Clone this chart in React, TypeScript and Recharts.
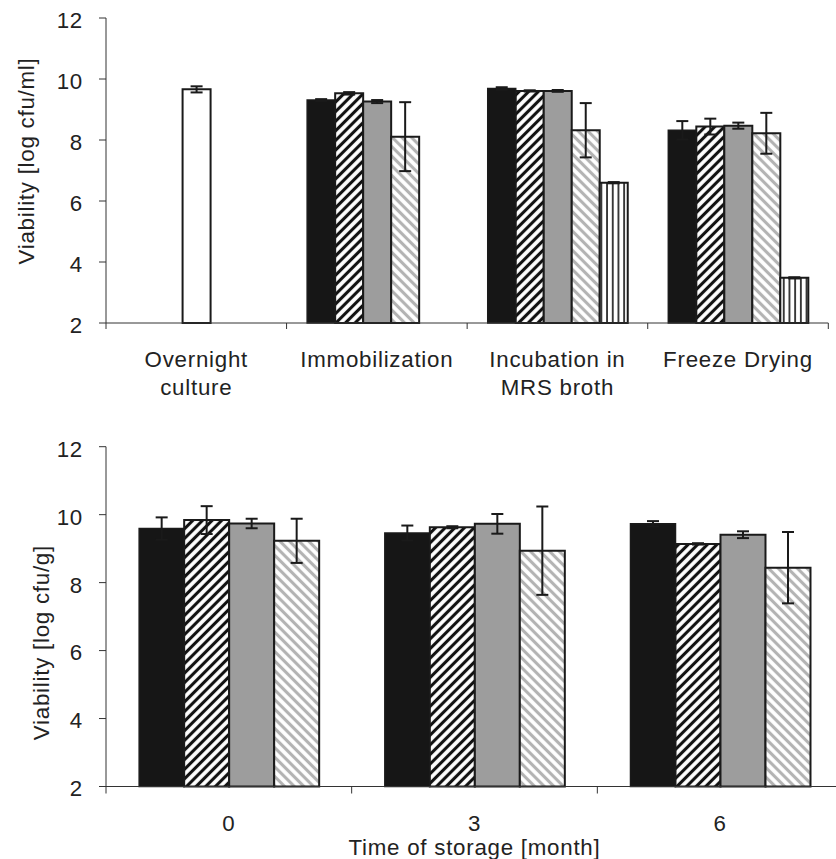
import React from 'react'
import { Bar, BarChart, Cell, ErrorBar, Label, XAxis, YAxis } from 'recharts'

const FONT = '"Liberation Sans", Arial, Helvetica, sans-serif'
const FS = 22.3
const LS = 0.75
const INK = '#1a1a1a'
const GREY = '#9d9d9d'

// top panel: processing steps
const stageLabels = ['Overnight\nculture', 'Immobilization', 'Incubation in\nMRS broth', 'Freeze Drying']
const stageSolid = [null, 9.31, 9.69, 8.32]
const stageSolidErr = [null, 0.03, 0.04, 0.3]
const stageHatch = [null, 9.53, 9.61, 8.44]
const stageHatchErr = [null, 0.04, 0.02, 0.26]
const stageGrey = [9.66, 9.26, 9.61, 8.47]
const stageGreyErr = [0.1, 0.05, 0.03, 0.1]
const stageLight = [null, 8.11, 8.32, 8.22]
const stageLightErr = [null, 1.13, 0.89, 0.67]
const stageStripe = [null, null, 6.6, 3.48]
const stageStripeErr = [null, null, 0.02, 0.02]

// bottom panel: storage time
const monthLabels = ['0', '3', '6']
const monthSolid = [9.59, 9.46, 9.73]
const monthSolidErr = [0.33, 0.22, 0.08]
const monthHatch = [9.84, 9.63, 9.14]
const monthHatchErr = [0.41, 0.03, 0.02]
const monthGrey = [9.74, 9.73, 9.41]
const monthGreyErr = [0.14, 0.29, 0.1]
const monthLight = [9.23, 8.94, 8.44]
const monthLightErr = [0.65, 1.3, 1.05]

const yTicks = [2, 4, 6, 8, 10, 12]

const stageData = stageLabels.map((stage, i) => ({
  stage,
  solid: stageSolid[i], solidErr: stageSolidErr[i],
  hatch: stageHatch[i], hatchErr: stageHatchErr[i],
  grey: stageGrey[i], greyErr: stageGreyErr[i],
  light: stageLight[i], lightErr: stageLightErr[i],
  stripe: stageStripe[i], stripeErr: stageStripeErr[i],
}))

const monthData = monthLabels.map((month, i) => ({
  month,
  solid: monthSolid[i], solidErr: monthSolidErr[i],
  hatch: monthHatch[i], hatchErr: monthHatchErr[i],
  grey: monthGrey[i], greyErr: monthGreyErr[i],
  light: monthLight[i], lightErr: monthLightErr[i],
}))

function patterns(p: string) {
  return (
    <defs>
      <pattern id={p + '-fwd'} patternUnits="userSpaceOnUse" width="6.8" height="6.8" patternTransform="rotate(45)">
        <rect width="6.8" height="6.8" fill="#fff" />
        <line x1="3.4" y1="0" x2="3.4" y2="6.8" stroke="#111" strokeWidth="3.1" />
      </pattern>
      <pattern id={p + '-back'} patternUnits="userSpaceOnUse" width="6.8" height="6.8" patternTransform="rotate(-45)">
        <rect width="6.8" height="6.8" fill="#fff" />
        <line x1="3.4" y1="0" x2="3.4" y2="6.8" stroke="#b3b3b3" strokeWidth="3.1" />
      </pattern>
      <pattern id={p + '-vert'} patternUnits="userSpaceOnUse" width="5.7" height="5.7">
        <rect width="5.7" height="5.7" fill="#fff" />
        <line x1="2.85" y1="0" x2="2.85" y2="5.7" stroke="#111" strokeWidth="1.6" />
      </pattern>
    </defs>
  )
}

function CategoryTick(props: any) {
  const { x, y, payload, index, count, width, baseline, lineGap, tickLen } = props
  const half = payload.offset ?? width / count / 2
  const lines = String(payload.value).split('\n')
  const last = index === count - 1
  return (
    <g>
      <line x1={x - half} y1={y} x2={x - half} y2={y + tickLen} stroke="#333" />
      {last && <line x1={x + half} y1={y} x2={x + half} y2={y + tickLen} stroke="#333" />}
      <text x={x} y={y + baseline} textAnchor="middle" fill="#222" fontSize={FS} letterSpacing={LS} fontFamily={FONT}>
        {lines.map((l, i) => (
          <tspan key={i} x={x} dy={i === 0 ? 0 : lineGap}>{l}</tspan>
        ))}
      </text>
    </g>
  )
}

function yTitle(text: string, dx: number, dy: number) {
  return (p: any) => {
    const vb = p.viewBox
    const cx = vb.x + dx
    const cy = vb.y + vb.height / 2 + dy
    return (
      <text x={cx} y={cy} transform={`rotate(-90 ${cx} ${cy})`} textAnchor="middle" dominantBaseline="central"
        fill="#222" fontSize={FS} letterSpacing={LS} fontFamily={FONT}>
        {text}
      </text>
    )
  }
}

const errProps = { width: 6, strokeWidth: 2, stroke: INK }
const yAxisProps = {
  domain: [2, 12] as [number, number],
  ticks: yTicks,
  interval: 0 as const,
  tickSize: 7,
  tickMargin: 16,
  width: 106,
  axisLine: { stroke: '#333' },
  tickLine: { stroke: '#333' },
  tick: { fill: '#222', fontSize: FS, letterSpacing: LS, fontFamily: FONT, dy: 2 },
}

export default function App() {
  return (
    <div style={{ position: 'absolute', left: 0, top: 0, width: 836, height: 859, overflow: 'hidden', background: '#fff' }}>
      <div style={{ position: 'absolute', left: 0, top: 0 }}>
        <BarChart width={836} height={420} data={stageData} barCategoryGap="11.4%" barGap={0}
          margin={{ top: 18, right: 7.7, bottom: 17, left: 0 }}>
          {patterns('top')}
          <XAxis dataKey="stage" height={80} interval={0} tickLine={false} tickSize={0} tickMargin={0}
            axisLine={{ stroke: '#333' }}
            tick={(p: any) => <CategoryTick {...p} count={stageLabels.length} baseline={44.3} lineGap={27.7} tickLen={6} />} />
          <YAxis {...yAxisProps}>
            <Label content={yTitle('Viability [log cfu/ml]', 26, -9.5)} />
          </YAxis>
          <Bar dataKey="solid" fill="#161616" stroke={INK} strokeWidth={1.5} isAnimationActive={false}>
            <ErrorBar dataKey="solidErr" {...errProps} />
          </Bar>
          <Bar dataKey="hatch" fill="url(#top-fwd)" stroke={INK} strokeWidth={2} isAnimationActive={false}>
            <ErrorBar dataKey="hatchErr" {...errProps} />
          </Bar>
          <Bar dataKey="grey" fill={GREY} stroke={INK} strokeWidth={2} isAnimationActive={false}>
            {stageData.map((d, i) => (
              <Cell key={i} fill={i === 0 ? '#fff' : GREY} />
            ))}
            <ErrorBar dataKey="greyErr" {...errProps} />
          </Bar>
          <Bar dataKey="light" fill="url(#top-back)" stroke={INK} strokeWidth={2} isAnimationActive={false}>
            <ErrorBar dataKey="lightErr" {...errProps} />
          </Bar>
          <Bar dataKey="stripe" fill="url(#top-vert)" stroke={INK} strokeWidth={2} isAnimationActive={false}>
            <ErrorBar dataKey="stripeErr" {...errProps} />
          </Bar>
        </BarChart>
      </div>
      <div style={{ position: 'absolute', left: 0, top: 420 }}>
        <BarChart width={843} height={439} data={monthData} barCategoryGap="13.5%" barGap={0}
          margin={{ top: 26.7, right: 0, bottom: 2.5, left: 0 }}>
          {patterns('bot')}
          <XAxis dataKey="month" height={70} interval={0} tickLine={false} tickSize={0} tickMargin={0}
            axisLine={{ stroke: '#333' }}
            tick={(p: any) => <CategoryTick {...p} count={monthLabels.length} baseline={44.5} lineGap={24} tickLen={7} />}>
            <Label content={(p: any) => (
              <text x={p.viewBox.x + p.viewBox.width / 2} y={p.viewBox.y + 68.5} textAnchor="middle"
                fill="#222" fontSize={FS} letterSpacing={LS} fontFamily={FONT}>
                Time of storage [month]
              </text>
            )} />
          </XAxis>
          <YAxis {...yAxisProps}>
            <Label content={yTitle('Viability [log cfu/g]', 41.5, 26)} />
          </YAxis>
          <Bar dataKey="solid" fill="#161616" stroke={INK} strokeWidth={1.5} isAnimationActive={false}>
            <ErrorBar dataKey="solidErr" {...errProps} />
          </Bar>
          <Bar dataKey="hatch" fill="url(#bot-fwd)" stroke={INK} strokeWidth={2} isAnimationActive={false}>
            <ErrorBar dataKey="hatchErr" {...errProps} />
          </Bar>
          <Bar dataKey="grey" fill={GREY} stroke={INK} strokeWidth={2} isAnimationActive={false}>
            <ErrorBar dataKey="greyErr" {...errProps} />
          </Bar>
          <Bar dataKey="light" fill="url(#bot-back)" stroke={INK} strokeWidth={2} isAnimationActive={false}>
            <ErrorBar dataKey="lightErr" {...errProps} />
          </Bar>
        </BarChart>
      </div>
    </div>
  )
}
